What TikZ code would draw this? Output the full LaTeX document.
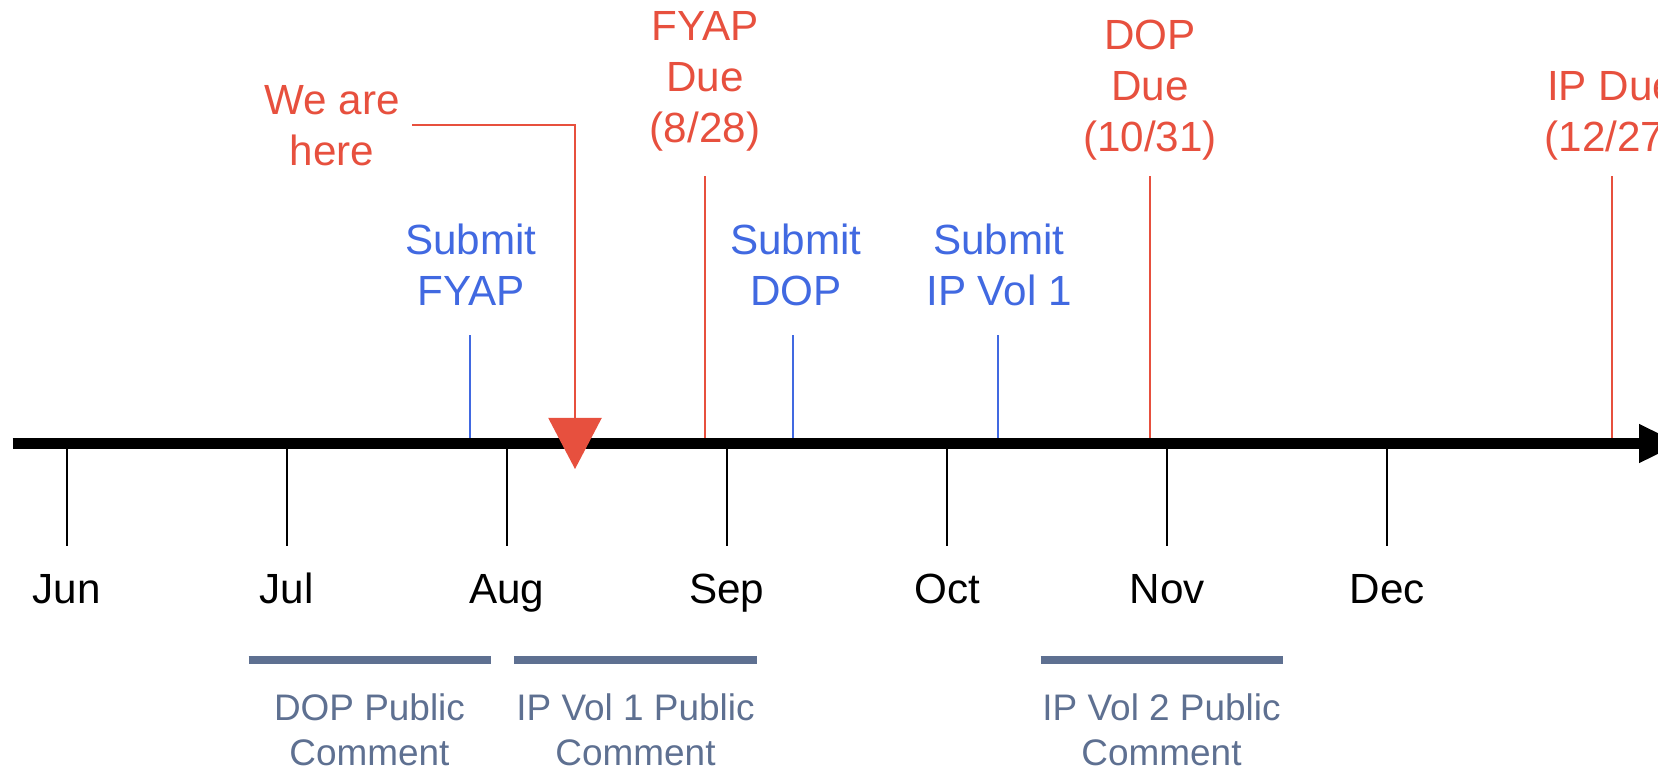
\documentclass[tikz,border=0pt]{standalone}
\usepackage{fontspec}
\setmainfont{Liberation Sans}
\usetikzlibrary{arrows.meta}

\definecolor{dueRed}{RGB}{231,80,62}
\definecolor{subBlue}{RGB}{65,105,225}
\definecolor{cmtSlate}{RGB}{94,112,145}

\tikzset{
  bigtext/.style={font=\fontsize{12}{14.5}\selectfont, inner sep=0pt, align=center},
  duetext/.style={bigtext, text=dueRed},
  subtext/.style={bigtext, text=subBlue},
  cmttext/.style={font=\fontsize{10.5}{12.6}\selectfont, inner sep=0pt, align=center, text=cmtSlate},
  dueline/.style={draw=dueRed, line width=0.02cm},
  subline/.style={draw=subBlue, line width=0.02cm},
  tickline/.style={draw=black, line width=0.02cm},
  cmtbar/.style={draw=cmtSlate, line width=0.08cm},
}

\begin{document}
\begin{tikzpicture}[x=0.01cm,y=-0.01cm]
\useasboundingbox (0,0) rectangle (1658,769);
\clip (0,0) rectangle (1658,769);

\foreach \m [count=\i from 0] in {Jun,Jul,Aug,Sep,Oct,Nov,Dec}
{
\coordinate (t\i) at ({66.6+220.1*\i},449);
\coordinate (b\i) at ({66.6+220.1*\i},546);
\draw[tickline] (t\i)--(b\i);
\node[bigtext,anchor=base] (m\i) at ({66.6+220.1*\i},603) {\m};
}

\coordinate (fyapsubT) at (469.5,335);
\coordinate (fyapsubB) at (469.5,443);
\coordinate (dopsubT) at (793,335);
\coordinate (dopsubB) at (793,443);
\coordinate (ipsubT) at (998,335);
\coordinate (ipsubB) at (998,443);
\draw[subline] (fyapsubT)--(fyapsubB);
\draw[subline] (dopsubT)--(dopsubB);
\draw[subline] (ipsubT)--(ipsubB);

\coordinate (fyapdueT) at (705,176);
\coordinate (fyapdueB) at (705,443);
\coordinate (dopdueT) at (1149.5,176);
\coordinate (dopdueB) at (1149.5,443);
\coordinate (ipdueT) at (1611.5,176);
\coordinate (ipdueB) at (1611.5,443);
\draw[dueline] (fyapdueT)--(fyapdueB);
\draw[dueline] (dopdueT)--(dopdueB);
\draw[dueline] (ipdueT)--(ipdueB);

\coordinate (axL) at (12.7,443.5);
\coordinate (axR) at (1680,443.5);
\draw[line width=0.11cm,-{Triangle[width=0.36cm,length=0.41cm]}] (axL)--(axR);

\node[subtext,anchor=base] (fyapsub) at (471,305) {Submit\\FYAP};
\node[subtext,anchor=base] (dopsub) at (796,305) {Submit\\DOP};
\node[subtext,anchor=base] (ipsub) at (999,305) {Submit\\IP Vol 1};

\node[duetext,anchor=base] (fyapdue) at (705,142.7) {FYAP\\Due\\(8/28)};
\node[duetext,anchor=base] (dopdue) at (1150,151.7) {DOP\\Due\\(10/31)};
\node[duetext,anchor=base] (ipdue) at (1611.5,151.7) {IP Due\\(12/27)};

\node[duetext,anchor=base,inner xsep=0.12cm] (here) at (332,165) {We are\\here};
\coordinate (now) at (575,469);
\draw[dueline,-{Triangle[width=0.53cm,length=0.51cm]}] (here.east) -| (now);

\coordinate (dopcL) at (248.5,659.5);
\coordinate (dopcR) at (490.6,659.5);
\coordinate (ip1cL) at (513.9,659.5);
\coordinate (ip1cR) at (757,659.5);
\coordinate (ip2cL) at (1040.5,659.5);
\coordinate (ip2cR) at (1282.6,659.5);
\draw[cmtbar] (dopcL)--(dopcR);
\draw[cmtbar] (ip1cL)--(ip1cR);
\draw[cmtbar] (ip2cL)--(ip2cR);
\node[cmttext,anchor=base] (dopc) at (369.5,765) {DOP Public\\Comment};
\node[cmttext,anchor=base] (ip1c) at (635.5,765) {IP Vol 1 Public\\Comment};
\node[cmttext,anchor=base] (ip2c) at (1161.5,765) {IP Vol 2 Public\\Comment};
\end{tikzpicture}
\end{document}
